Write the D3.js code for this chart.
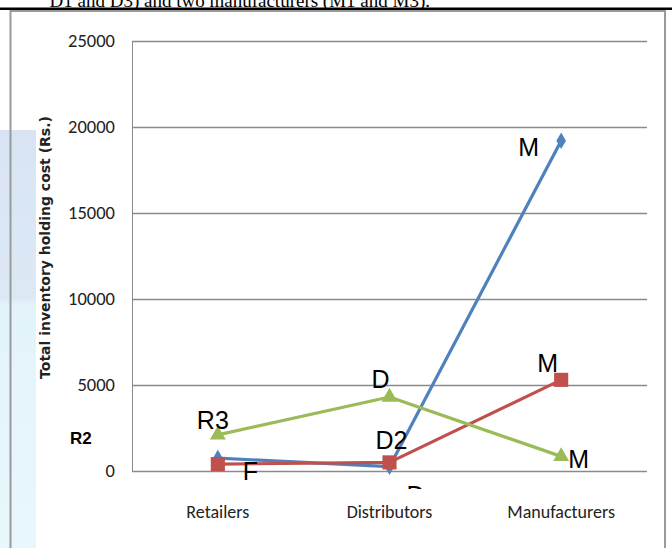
<!DOCTYPE html>
<html>
<head>
<meta charset="utf-8">
<script src="https://cdn.jsdelivr.net/npm/d3@7"></script>
<style>
  html, body { margin: 0; padding: 0; background: #fff; }
  svg { display: block; }
</style>
</head>
<body>
<svg id="chart" width="672" height="548"></svg>
<script>
// Echelons along the supply chain
const categories = ["Retailers", "Distributors", "Manufacturers"];

// Total inventory holding cost (Rs.) per echelon, one series per chain
const seriesBlue  = [750, 250, 19200];
const seriesRed   = [400, 500, 5300];
const seriesGreen = [2100, 4300, 850];

// Point labels shown on the lines
const labelsBlue  = ["F", "D", "M"];
const labelsRed   = ["", "D2", "M"];
const labelsGreen = ["R3", "D", "M"];

const yTicks = [0, 5000, 10000, 15000, 20000, 25000];

const svg = d3.select("#chart");
const W = 672, H = 548;

// faint backdrop tint on the left edge
const defs = svg.append("defs");
const grad = defs.append("linearGradient").attr("id", "tint").attr("x1", 0).attr("y1", 0).attr("x2", 0).attr("y2", 1);
grad.append("stop").attr("offset", "0").attr("stop-color", "#d8e4f3");
grad.append("stop").attr("offset", "0.4").attr("stop-color", "#dce9f5");
grad.append("stop").attr("offset", "0.42").attr("stop-color", "#e3f3fa");
grad.append("stop").attr("offset", "1").attr("stop-color", "#e8f7fc");
svg.append("rect").attr("x", 0).attr("y", 130).attr("width", 36).attr("height", H - 130).attr("fill", "url(#tint)");

// text line of the page above the figure
svg.append("text")
  .attr("x", 430).attr("y", 6.5)
  .attr("text-anchor", "end")
  .attr("font-family", "'Liberation Serif', 'Times New Roman', serif")
  .attr("font-size", 19)
  .attr("fill", "#000")
  .text("D1 and D3) and two manufacturers (M1 and M3).");
svg.append("line").attr("x1", 0).attr("x2", W).attr("y1", 8.8).attr("y2", 8.8)
  .attr("stroke", "#000").attr("stroke-width", 2.6);

// chart frame
svg.append("rect").attr("x", 10.5).attr("y", 11).attr("width", 654.5).attr("height", 600)
  .attr("fill", "none").attr("stroke", "#9a9a9a").attr("stroke-width", 2);

const plot = { left: 132, right: 647, top: 41, bottom: 471 };

const x = d3.scaleBand().domain(categories).range([plot.left, plot.right]).padding(0);
const y = d3.scaleLinear().domain([0, 25000]).range([plot.bottom, plot.top]);
const cx = c => x(c) + x.bandwidth() / 2;

const tickFont = "Carlito, 'Liberation Sans Narrow', 'DejaVu Sans Condensed', sans-serif";

// horizontal gridlines + y labels
const yAxis = d3.axisLeft(y).tickValues(yTicks).tickSize(-(plot.right - plot.left)).tickPadding(17).tickFormat(d3.format("d"));
const gy = svg.append("g").attr("transform", `translate(${plot.left},0)`).call(yAxis);
gy.select(".domain").attr("stroke", "#8a8a8a").attr("stroke-width", 1);
gy.selectAll(".tick line").attr("stroke", "#8a8a8a").attr("stroke-width", 1.3);
gy.selectAll(".tick text").attr("font-family", tickFont).attr("font-size", 18.5).attr("fill", "#222");

// category labels
const xAxis = d3.axisBottom(x).tickSize(0).tickPadding(34);
const gx = svg.append("g").attr("transform", `translate(0,${plot.bottom})`).call(xAxis);
gx.select(".domain").remove();
gx.selectAll(".tick text").attr("font-family", tickFont).attr("font-size", 18).attr("fill", "#222");

// y-axis title
svg.append("text")
  .attr("transform", `translate(50,${(85 + 410) / 2}) rotate(-90)`)
  .attr("text-anchor", "middle")
  .attr("font-family", "'DejaVu Sans', Verdana, sans-serif")
  .attr("font-weight", "bold")
  .attr("font-size", 14)
  .attr("fill", "#222")
  .text("Total inventory holding cost (Rs.)");

// stray bold label at the axis
svg.append("text").attr("x", 70).attr("y", 444)
  .attr("font-family", "'Liberation Sans', Arial, sans-serif").attr("font-weight", "bold")
  .attr("font-size", 17).attr("fill", "#000").text("R2");

const series = [
  { values: seriesBlue,  labels: labelsBlue,  color: "#4f81bd", symbol: d3.symbolDiamond,  size: 80 },
  { values: seriesRed,   labels: labelsRed,   color: "#c0504d", symbol: d3.symbolSquare,   size: 200 },
  { values: seriesGreen, labels: labelsGreen, color: "#9bbb59", symbol: d3.symbolTriangle, size: 110 }
];

const line = d3.line().x(d => cx(d.c)).y(d => y(d.v));

series.forEach(s => {
  const pts = categories.map((c, i) => ({ c, v: s.values[i] }));
  svg.append("path").datum(pts).attr("d", line)
    .attr("fill", "none").attr("stroke", s.color).attr("stroke-width", 3.2)
    .attr("stroke-linejoin", "round");
  svg.append("g").selectAll("path").data(pts).join("path")
    .attr("transform", d => `translate(${cx(d.c)},${y(d.v)})`)
    .attr("d", d3.symbol().type(s.symbol).size(s.size))
    .attr("fill", s.color);
});

// data labels, offset from their point
const labelFont = "'Liberation Sans', Arial, sans-serif";
const labelSpecs = [
  { s: 0, i: 0, dx: 25, dy: 22, clip: null },
  { s: 0, i: 1, dx: 17, dy: 37, clip: 489 },
  { s: 0, i: 2, dx: -43, dy: 15, clip: null },
  { s: 1, i: 1, dx: -14, dy: -13, clip: null },
  { s: 1, i: 2, dx: -24, dy: -8, clip: null },
  { s: 2, i: 0, dx: -21, dy: -6, clip: null },
  { s: 2, i: 1, dx: -18, dy: -9, clip: null },
  { s: 2, i: 2, dx: 7, dy: 12, clip: null }
];
labelSpecs.forEach((L, k) => {
  const s = series[L.s];
  const px = cx(categories[L.i]), py = y(s.values[L.i]);
  const t = svg.append("text")
    .attr("x", px + L.dx).attr("y", py + L.dy)
    .attr("font-family", labelFont).attr("font-size", 25).attr("fill", "#000")
    .text(s.labels[L.i]);
  if (L.clip !== null) {
    const id = "lc" + k;
    defs.append("clipPath").attr("id", id).append("rect")
      .attr("x", 0).attr("y", 0).attr("width", W).attr("height", L.clip);
    t.attr("clip-path", `url(#${id})`);
  }
});
</script>
</body>
</html>
